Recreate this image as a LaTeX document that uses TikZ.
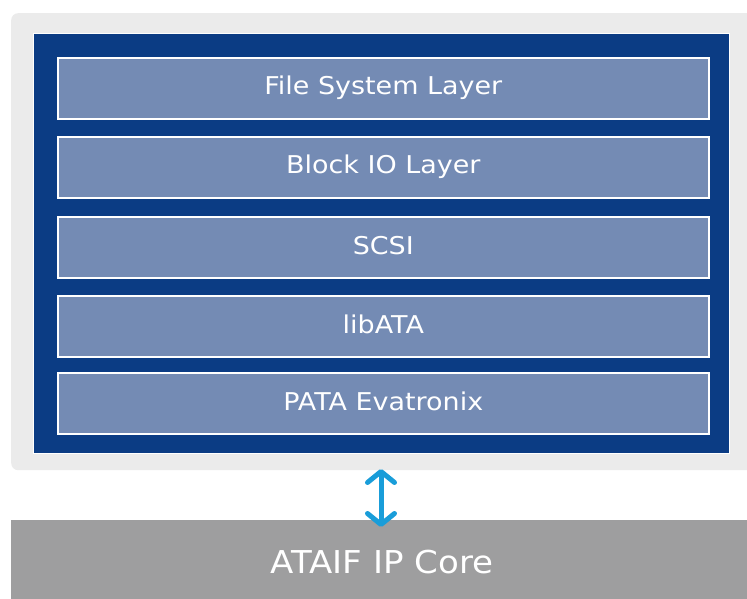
\documentclass[tikz,border=0pt]{standalone}
\usepackage{fontspec}
\setmainfont{DejaVu Sans}
\usetikzlibrary{arrows.meta}
\definecolor{bgGrey}{HTML}{EBEBEB}
\definecolor{darkBlue}{HTML}{0B3C84}
\definecolor{layerBlue}{HTML}{748BB4}
\definecolor{coreGrey}{HTML}{9E9E9F}
\definecolor{arrowBlue}{HTML}{199DD9}
\newcommand{\widetext}[1]{\scalebox{1.1}[1]{#1}}
\tikzset{
  layerbox/.style={draw=white, line width=1.6pt, fill=layerBlue, inner sep=0pt},
  layertext/.style={text=white, font=\fontsize{24.5}{28}\selectfont, anchor=base, inner sep=0pt},
}
\begin{document}
\begin{tikzpicture}[x=1pt,y=-1pt]
\useasboundingbox (0,0) rectangle (747,599);
\begin{scope}
\clip (0,0) rectangle (747,599);
\node[fill=bgGrey, rounded corners=7pt, minimum width=760pt, minimum height=457pt, anchor=north west, inner sep=0pt] (outer) at (11,13) {};
\end{scope}
\node[fill=darkBlue, draw=white, line width=1.4pt, minimum width=696pt, minimum height=420pt, anchor=north west, inner sep=0pt] (stack) at (33,33) {};
\foreach \n/\t/\y in {l1/File System Layer/57, l2/Block IO Layer/136, l3/SCSI/216, l4/libATA/295, l5/PATA Evatronix/372}{
  \node[layerbox, minimum width=651pt, minimum height=61pt, anchor=north west] (\n) at (57,\y) {};
  \node[layertext] (\n t) at ([yshift=-38pt]\n.north) {\widetext{\t}};
}
\node[fill=coreGrey, inner sep=0pt, minimum width=736pt, minimum height=80pt, anchor=north west] (core) at (11,520) {};
\node[text=white, font=\fontsize{31.5}{36}\selectfont, anchor=base, inner sep=0pt] (coretext) at (382,573) {\scalebox{1.08}[1]{ATAIF IP Core}};
\coordinate (atop) at (381,469);
\coordinate (abot) at (381,527);
\draw[arrowBlue, line width=5pt, line cap=round,
  arrows={Straight Barb[length=11pt,width=27pt,line cap=round,line join=round]-Straight Barb[length=11pt,width=27pt,line cap=round,line join=round]}]
  (atop) -- (abot);
\end{tikzpicture}
\end{document}
